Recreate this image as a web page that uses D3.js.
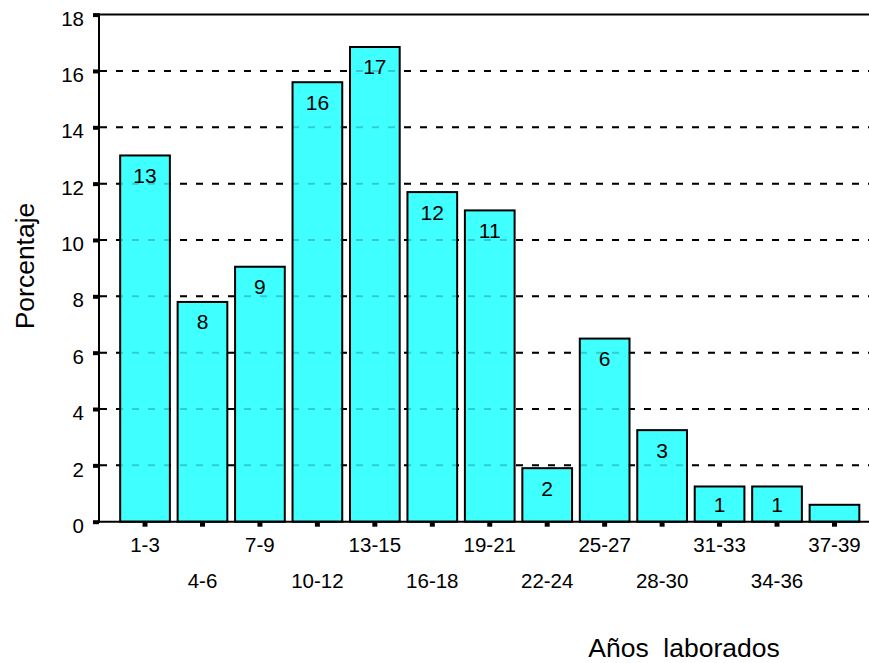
<!DOCTYPE html>
<html>
<head>
<meta charset="utf-8">
<script src="https://cdn.jsdelivr.net/npm/d3@7"></script>
<style>
  html, body { margin: 0; padding: 0; background: #fff; }
  svg { display: block; }
  text { font-family: "Liberation Sans", Arial, sans-serif; fill: #000; }
</style>
</head>
<body>
<svg id="chart" width="869" height="663"></svg>
<script>
// Data
const categories = ["1-3","4-6","7-9","10-12","13-15","16-18","19-21","22-24","25-27","28-30","31-33","34-36","37-39"];
const percentages = [13.0, 7.8, 9.05, 15.6, 16.85, 11.7, 11.05, 1.9, 6.5, 3.25, 1.25, 1.25, 0.6];
const barLabels = ["13","8","9","16","17","12","11","2","6","3","1","1",""];
const yTicks = [0,2,4,6,8,10,12,14,16,18];
const xTitle = "Años  laborados";
const yTitle = "Porcentaje";

const svg = d3.select("#chart");
const W = 869;
const axisX = 99, axisY = 521.7, topY = 14.6;

const x = d3.scaleBand().domain(categories).range([116.3, 863.2]).paddingInner(0.1).paddingOuter(0.05);
const y = d3.scaleLinear().domain([0, 18]).range([axisY, topY]);

// Gridlines (behind bars)
const gridVals = yTicks.filter(v => v > 0 && v < 18);
function drawGrid(g, opacity) {
  g.selectAll("line").data(gridVals).join("line")
    .attr("x1", axisX + 1).attr("x2", W)
    .attr("y1", d => y(d)).attr("y2", d => y(d))
    .attr("stroke", "#000").attr("stroke-width", 2)
    .attr("stroke-dasharray", "7,9")
    .attr("stroke-opacity", opacity);
}
drawGrid(svg.append("g"), 1);

// Top solid line at 18
svg.append("line").attr("x1", axisX).attr("x2", W).attr("y1", y(18)).attr("y2", y(18))
  .attr("stroke", "#000").attr("stroke-width", 2);

// Bars
svg.append("g").selectAll("rect").data(categories).join("rect")
  .attr("x", d => x(d) + 1)
  .attr("width", x.bandwidth() - 2)
  .attr("y", (d, i) => y(percentages[i]))
  .attr("height", (d, i) => axisY - y(percentages[i]))
  .attr("fill", "#40FFFF")
  .attr("stroke", "#000").attr("stroke-width", 2);

// Gridlines faintly over bars
drawGrid(svg.append("g"), 0.2);

// Bar labels
svg.append("g").selectAll("text").data(categories).join("text")
  .attr("x", d => x(d) + x.bandwidth() / 2)
  .attr("y", (d, i) => Math.min(y(percentages[i]) + 27.5, axisY - 10))
  .attr("text-anchor", "middle")
  .attr("font-size", 21)
  .text((d, i) => barLabels[i]);

// Y axis
const yAxis = svg.append("g").attr("transform", `translate(${axisX},0)`)
  .call(d3.axisLeft(y).tickValues(yTicks).tickSize(6).tickSizeOuter(0).tickPadding(9));
yAxis.select(".domain").remove();
yAxis.selectAll(".tick line").attr("stroke", "#000").attr("stroke-width", 4);
yAxis.selectAll(".tick text").attr("font-size", 20.5).attr("dy", "0.52em")
  .style("font-family", '"Liberation Sans", Arial, sans-serif');
svg.append("line").attr("x1", axisX).attr("x2", axisX).attr("y1", topY - 1).attr("y2", axisY + 1)
  .attr("stroke", "#000").attr("stroke-width", 2);

// X axis
const xAxis = svg.append("g").attr("transform", `translate(0,${axisY})`)
  .call(d3.axisBottom(x).tickSize(5).tickSizeOuter(0).tickPadding(0));
xAxis.select(".domain").remove();
xAxis.selectAll(".tick line").attr("stroke", "#000").attr("stroke-width", 5);
xAxis.selectAll(".tick text")
  .attr("font-size", 20.5)
  .attr("dy", null)
  .attr("y", (d, i) => (i % 2 === 0 ? 552 : 588) - axisY)
  .style("font-family", '"Liberation Sans", Arial, sans-serif');
svg.append("line").attr("x1", axisX - 1).attr("x2", W).attr("y1", axisY).attr("y2", axisY)
  .attr("stroke", "#000").attr("stroke-width", 2);

// Axis titles
svg.append("text").attr("x", 684).attr("y", 657).attr("text-anchor", "middle")
  .attr("font-size", 26.5).style("white-space", "pre").text(xTitle);
svg.append("text").attr("transform", "translate(34,266) rotate(-90)")
  .attr("text-anchor", "middle").attr("font-size", 26.5).text(yTitle);
</script>
</body>
</html>
